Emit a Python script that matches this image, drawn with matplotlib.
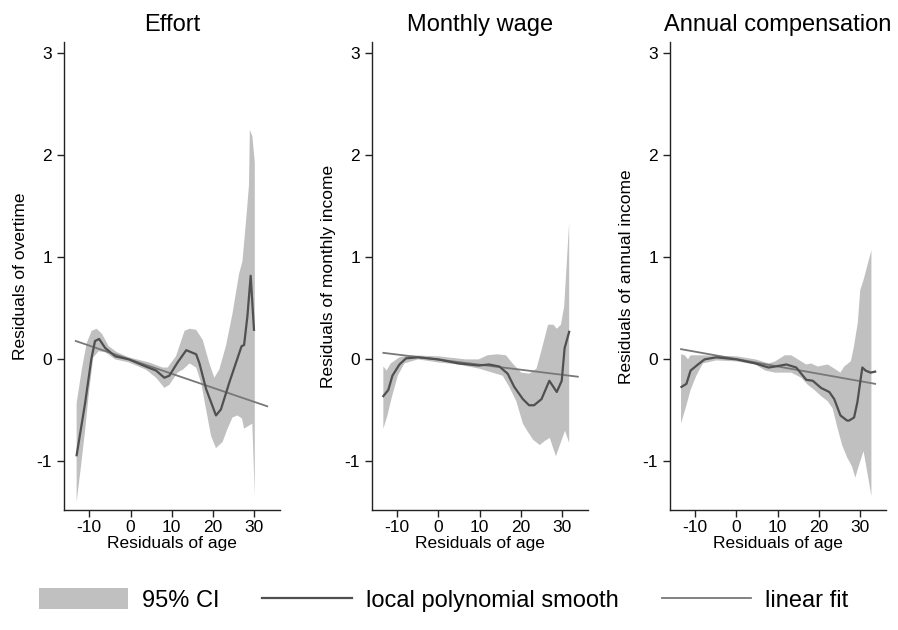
import numpy as np
import matplotlib
matplotlib.use("Agg")
import matplotlib.pyplot as plt
from matplotlib.patches import Patch
from matplotlib.lines import Line2D

plt.rcParams['font.family'] = ['Liberation Sans', 'DejaVu Sans']
plt.rcParams['axes.unicode_minus'] = False

titles = ["Effort", "Monthly wage", "Annual compensation"]
ylabels = ["Residuals of overtime", "Residuals of monthly income", "Residuals of annual income"]
xlabel = "Residuals of age"

# --- Effort ---
eff_x = [-13.05, -11.0, -9.5, -8.6, -7.6, -6.1, -3.7, -0.4, 3.7, 6.2, 8.2, 9.4, 11.4, 13.5,
         15.9, 16.7, 18.3, 20.7, 21.9, 23.9, 25.9, 26.9, 27.5, 28.3, 29.1, 29.9]
eff_y = [-0.94, -0.43, 0.0, 0.18, 0.20, 0.11, 0.03, 0.0, -0.07, -0.11, -0.18, -0.16, -0.03, 0.09,
         0.05, -0.04, -0.29, -0.55, -0.49, -0.23, 0.01, 0.13, 0.14, 0.42, 0.82, 0.29]
eff_up_x = [-13.05, -11.8, -10.6, -9.4, -8.2, -6.9, -5.3, -3.3, -0.4, 4.5, 7.8, 9.0, 11.0, 13.1,
            14.3, 15.9, 17.5, 19.1, 20.3, 21.5, 23.1, 24.7, 26.3, 27.1, 27.9, 28.7, 28.9, 29.5, 30.1]
eff_up_y = [-0.43, -0.10, 0.16, 0.28, 0.30, 0.25, 0.13, 0.07, 0.02, -0.03, -0.08, -0.08, 0.03, 0.28,
            0.30, 0.29, 0.19, -0.04, -0.18, -0.10, 0.13, 0.45, 0.84, 0.96, 1.32, 1.71, 2.25, 2.19, 1.93]
eff_lo_x = [-13.05, -12.0, -11.0, -10.0, -9.0, -7.7, -6.1, -3.7, -0.4, 3.7, 6.2, 8.2, 9.4, 11.4,
            12.7, 14.3, 15.9, 17.1, 18.3, 19.5, 20.7, 22.3, 23.5, 24.7, 25.9, 27.0, 27.5, 28.7, 29.5, 30.1]
eff_lo_y = [-1.40, -1.05, -0.70, -0.30, 0.02, 0.08, 0.07, 0.0, -0.03, -0.10, -0.18, -0.28, -0.25, -0.13,
            -0.10, -0.04, -0.08, -0.23, -0.49, -0.75, -0.87, -0.81, -0.68, -0.57, -0.55, -0.58, -0.68, -0.65, -0.63, -1.34]
eff_fit_x = [-13.25, 33.1]
eff_fit_y = [0.18, -0.46]

# --- Monthly wage ---
mon_x = [-13.3, -12.1, -11.1, -9.4, -7.8, -4.9, 0, 4.9, 9.8, 12.3, 14.8, 16.8, 18.4, 20.5, 22.0,
         23.2, 25.0, 26.9, 28.7, 29.9, 30.6, 31.7]
mon_y = [-0.36, -0.30, -0.16, -0.05, 0.01, 0.02, 0.0, -0.04, -0.06, -0.05, -0.07, -0.14, -0.27, -0.39, -0.45,
         -0.45, -0.39, -0.21, -0.32, -0.21, 0.11, 0.27]
mon_up_x = [-13.3, -12.5, -11.5, -9.4, -6.6, 0, 6.6, 9.8, 11.9, 14.3, 16.4, 18.0, 20.1, 22.1, 23.8,
            25.0, 26.6, 27.9, 28.7, 29.7, 30.5, 31.7]
mon_up_y = [-0.07, -0.11, -0.04, 0.02, 0.04, 0.03, 0.0, 0.0, 0.04, 0.05, 0.04, -0.04, -0.13, -0.14, -0.09,
            0.09, 0.34, 0.34, 0.30, 0.34, 0.52, 1.34]
mon_lo_x = [-13.3, -12.3, -11.3, -9.8, -8.2, -4.9, 0, 4.9, 9.8, 13.1, 15.6, 17.2, 18.9, 20.5, 21.7,
            23.0, 24.6, 25.8, 27.0, 28.5, 29.9, 30.7, 31.7]
mon_lo_y = [-0.68, -0.55, -0.38, -0.16, -0.04, 0.0, -0.03, -0.05, -0.09, -0.13, -0.16, -0.27, -0.41, -0.63, -0.71,
            -0.79, -0.84, -0.80, -0.77, -0.95, -0.79, -0.70, -0.82]
mon_fit_x = [-13.3, 33.8]
mon_fit_y = [0.064, -0.17]

# --- Annual compensation ---
ann_x = [-13.3, -12.1, -11.1, -9.3, -7.7, -4.9, 0, 4.6, 7.8, 9.4, 12.1, 14.5, 15.7, 16.9, 18.5,
         20.5, 22.5, 23.7, 25.2, 26.8, 27.3, 28.5, 29.3, 30.0, 30.5, 31.3, 32.5, 33.6]
ann_y = [-0.27, -0.24, -0.11, -0.05, 0.0, 0.02, 0.0, -0.04, -0.08, -0.07, -0.05, -0.08, -0.14, -0.20, -0.21,
         -0.28, -0.32, -0.39, -0.55, -0.60, -0.60, -0.57, -0.42, -0.22, -0.08, -0.11, -0.13, -0.12]
ann_up_x = [-13.4, -12.5, -11.7, -11.1, -8.1, 0, 4.6, 7.8, 9.4, 11.7, 13.3, 14.9, 16.9, 18.1, 19.7,
            22.1, 23.7, 25.2, 26.1, 27.7, 28.4, 29.4, 30.0, 30.8, 32.7]
ann_up_y = [0.05, 0.04, 0.0, 0.04, 0.04, 0.03, 0.0, -0.04, -0.02, 0.04, 0.04, 0.0, -0.05, -0.04, -0.07,
            -0.05, -0.09, -0.13, -0.07, -0.02, 0.11, 0.36, 0.68, 0.78, 1.07]
ann_lo_x = [-13.4, -12.1, -11.1, -9.7, -8.1, -4.9, 0, 4.6, 7.0, 9.4, 13.3, 15.7, 17.3, 18.9, 20.5,
            22.1, 23.3, 24.4, 25.6, 26.8, 28.0, 28.8, 29.6, 30.8, 32.7]
ann_lo_y = [-0.63, -0.45, -0.30, -0.16, -0.04, -0.01, -0.02, -0.05, -0.11, -0.13, -0.13, -0.18, -0.25, -0.30, -0.36,
            -0.41, -0.48, -0.66, -0.84, -0.96, -1.05, -1.16, -1.05, -0.90, -1.34]
ann_fit_x = [-13.4, 33.6]
ann_fit_y = [0.10, -0.24]

xticks = [-10, 0, 10, 20, 30]
yticks = [-1, 0, 1, 2, 3]

ci_color = "#c0c0c0"
smooth_color = "#505050"
fit_color = "#787878"

panels = [
    (eff_x, eff_y, eff_up_x, eff_up_y, eff_lo_x, eff_lo_y, eff_fit_x, eff_fit_y),
    (mon_x, mon_y, mon_up_x, mon_up_y, mon_lo_x, mon_lo_y, mon_fit_x, mon_fit_y),
    (ann_x, ann_y, ann_up_x, ann_up_y, ann_lo_x, ann_lo_y, ann_fit_x, ann_fit_y),
]

fig = plt.figure(figsize=(8.98, 6.30), dpi=100)
lefts = [0.0713, 0.414, 0.746]

for i, (sx, sy, ux, uy, lx, ly, fx, fy) in enumerate(panels):
    ax = fig.add_axes([lefts[i], 0.19, 0.2405, 0.743])
    # CI band as polygon: upper edge forward, lower edge back
    px = np.r_[ux, lx[::-1]]
    py = np.r_[uy, ly[::-1]]
    ax.fill(px, py, color=ci_color, lw=0, zorder=1)
    ax.plot(sx, sy, color=smooth_color, lw=1.6, zorder=3)
    ax.plot(fx, fy, color=fit_color, lw=1.3, zorder=2)

    ax.set_xlim(-16.1, 36.2)
    ax.set_ylim(-1.48, 3.11)
    ax.set_xticks(xticks)
    ax.set_yticks(yticks)
    ax.spines['top'].set_visible(False)
    ax.spines['right'].set_visible(False)
    for s in ('left', 'bottom'):
        ax.spines[s].set_linewidth(1.0)
        ax.spines[s].set_color("#222222")
    ax.tick_params(direction='out', length=5, width=1.0, labelsize=12.5, colors="#222222",
                   labelcolor="black")
    ax.tick_params(axis='x', pad=2)
    ax.set_xlabel(xlabel, fontsize=12.5, labelpad=1)
    ax.set_ylabel(ylabels[i], fontsize=12.5, labelpad=6)
    ax.set_title(titles[i], fontsize=17, pad=8)
    ax.patch.set_alpha(0)

handles = [
    Patch(facecolor=ci_color, edgecolor='none', label="95% CI"),
    Line2D([], [], color=smooth_color, lw=1.6, label="local polynomial smooth"),
    Line2D([], [], color=fit_color, lw=1.3, label="linear fit"),
]
fig.legend(handles=handles, loc='lower center', bbox_to_anchor=(0.494, -0.005), ncol=3,
           frameon=False, fontsize=17, handlelength=3.8, handleheight=1.0,
           columnspacing=1.8, handletextpad=0.6)

fig.savefig("out.png", dpi=100)
